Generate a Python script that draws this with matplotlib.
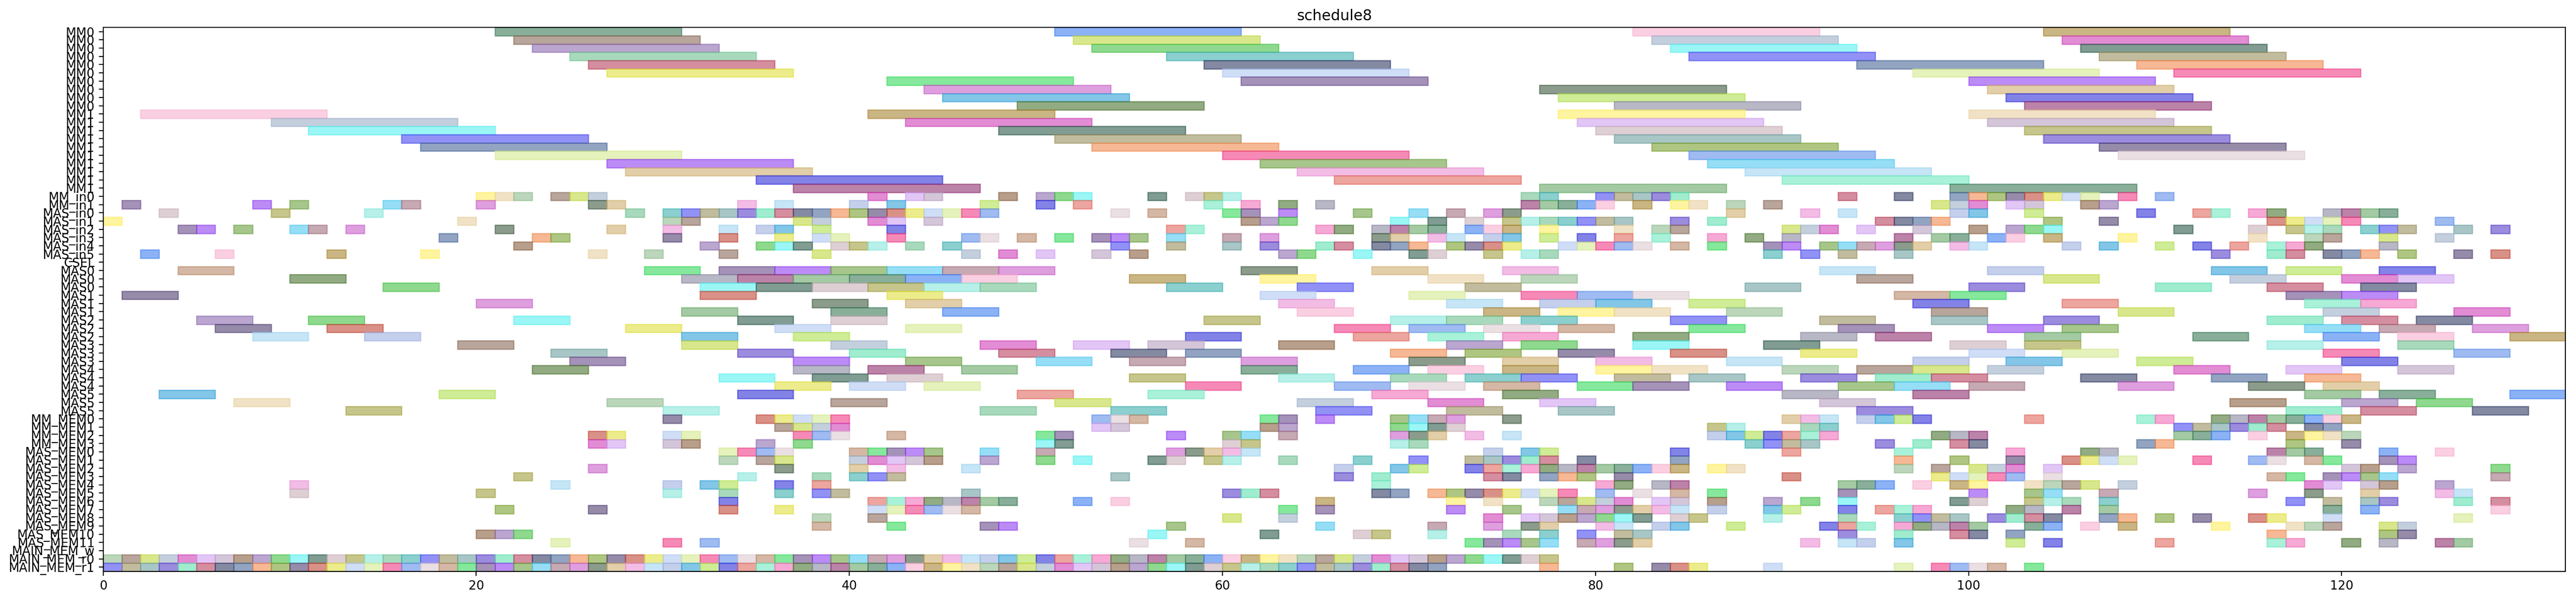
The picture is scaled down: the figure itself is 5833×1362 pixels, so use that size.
import matplotlib
matplotlib.use("Agg")
import matplotlib.pyplot as plt

# row labels, top to bottom
row_names = (["MM0"] * 10 + ["MM1"] * 10 + ["MM_in0", "MM_in1"]
             + ["MAS_in%d" % i for i in range(6)] + ["CSEL"]
             + ["MAS0"] * 3 + ["MAS1"] * 3 + ["MAS2"] * 3 + ["MAS3"] * 3 + ["MAS4"] * 3 + ["MAS5"] * 3
             + ["MM_MEM%d" % i for i in range(4)] + ["MAS_MEM%d" % i for i in range(12)]
             + ["MAIN_MEM_w", "MAIN_MEM_r0", "MAIN_MEM_r1"])

# MM rows: tasks of length 10
mm_len = 10
mm_starts = [
    [21, 51, 82, 104],
    [22, 52, 83, 105],
    [23, 53, 84, 106],
    [25, 57, 85, 107],
    [26, 59, 94, 109],
    [27, 60, 97, 111],
    [42, 61, 100],
    [44, 77, 101],
    [45, 78, 102],
    [49, 81, 103],
    [2, 41, 78, 100],
    [9, 43, 79, 101],
    [11, 48, 80, 103],
    [16, 51, 81, 104],
    [17, 53, 83, 107],
    [21, 60, 85, 108],
    [27, 62, 86],
    [28, 64, 88],
    [35, 66, 90],
    [37, 77, 99],
]

# input rows (MM_in0..MAS_in5) and CSEL: length 1
in_starts = [
    [20, 21, 22, 24, 25, 26, 41, 43, 44, 48, 50, 51, 52, 56, 58, 59, 60, 76, 77, 80, 81, 82, 83, 84, 93, 96,
     99, 100, 101, 102, 103, 104, 105, 106, 108, 110],
    [1, 8, 10, 15, 16, 20, 26, 27, 34, 36, 40, 42, 47, 50, 52, 59, 61, 63, 65, 76, 77, 78, 79, 80, 82, 84, 85,
     87, 89, 98, 99, 100, 102, 103, 106, 107],
    [3, 9, 14, 28, 30, 31, 32, 33, 34, 35, 36, 37, 38, 39, 40, 41, 42, 43, 44, 45, 46, 47, 54, 56, 60, 61, 63,
     67, 70, 72, 74, 75, 87, 91, 93, 99, 100, 103, 109, 112, 113, 115, 116, 119, 120, 121, 122],
    [0, 19, 30, 31, 37, 38, 41, 42, 44, 61, 62, 63, 69, 71, 73, 75, 76, 77, 78, 79, 80, 81, 84, 86, 95, 96, 97,
     98, 104, 107, 116, 117, 118, 119, 120, 125],
    [4, 5, 7, 10, 11, 13, 21, 27, 30, 33, 35, 36, 38, 42, 57, 58, 65, 66, 68, 69, 70, 71, 73, 74, 75, 77, 81,
     83, 84, 90, 91, 92, 94, 97, 100, 102, 103, 104, 111, 115, 117, 118, 119, 121, 122, 123, 126, 128],
    [18, 23, 24, 30, 33, 36, 38, 39, 42, 46, 47, 49, 51, 53, 54, 55, 57, 60, 62, 68, 69, 71, 72, 74, 75, 77,
     79, 81, 83, 86, 88, 90, 96, 98, 99, 101, 102, 104, 108, 115, 118, 119, 122, 125],
    [22, 32, 35, 36, 37, 39, 40, 41, 43, 45, 54, 57, 60, 62, 65, 66, 68, 69, 70, 72, 73, 74, 75, 78, 79, 80,
     81, 82, 84, 86, 89, 90, 92, 93, 94, 95, 96, 97, 99, 100, 105, 107, 110, 112, 114, 116, 117, 118, 122],
    [2, 6, 12, 17, 26, 29, 33, 38, 46, 48, 50, 53, 55, 63, 64, 67, 70, 71, 74, 76, 77, 89, 91, 93, 96, 113,
     116, 117, 119, 120, 121, 123, 126, 128],
    [],
]

# MAS rows: tasks of length 3
mas_len = 3
mas_starts = [
    [4, 29, 33, 36, 39, 42, 45, 48, 61, 68, 75, 92, 101, 113, 117, 122],
    [10, 31, 34, 37, 40, 43, 46, 55, 62, 71, 76, 94, 104, 114, 120, 123],
    [15, 32, 35, 38, 41, 44, 47, 57, 64, 73, 88, 100, 110, 116, 121],
    [1, 32, 42, 62, 70, 76, 79, 82, 96, 99, 117, 120],
    [20, 38, 43, 63, 72, 77, 80, 85, 97, 105, 118, 121],
    [31, 39, 45, 64, 74, 78, 81, 87, 98, 108, 119, 126],
    [5, 11, 22, 34, 39, 59, 69, 72, 76, 84, 92, 98, 104, 116, 120, 124],
    [6, 12, 28, 36, 43, 66, 70, 74, 78, 85, 93, 101, 105, 118, 122, 127],
    [8, 14, 31, 37, 58, 67, 71, 75, 82, 91, 95, 103, 112, 119, 123, 129],
    [19, 31, 39, 47, 52, 56, 63, 72, 76, 82, 89, 99, 103, 116, 123],
    [24, 34, 40, 48, 54, 58, 69, 73, 78, 84, 91, 100, 105, 119, 126],
    [25, 37, 43, 50, 55, 61, 70, 75, 80, 87, 97, 102, 109, 120],
    [23, 37, 41, 46, 61, 67, 71, 75, 80, 83, 90, 94, 97, 101, 111, 117, 123],
    [33, 38, 42, 55, 63, 69, 73, 76, 81, 85, 91, 95, 98, 106, 113, 118],
    [36, 40, 44, 58, 66, 70, 74, 79, 82, 87, 93, 96, 100, 108, 115, 119],
    [3, 18, 34, 49, 56, 68, 75, 90, 97, 118, 122, 129],
    [7, 27, 39, 51, 64, 71, 77, 92, 114, 120, 124],
    [13, 30, 47, 54, 65, 72, 78, 94, 117, 121, 127],
]

# memory rows (MM_MEM0..3, MAS_MEM0..11): length 1
mem_starts = [
    [30, 35, 36, 37, 38, 39, 53, 54, 55, 62, 63, 65, 69, 70, 71, 72, 75, 90, 91, 92, 94, 95, 96, 97, 103,
     109, 110, 113, 114, 115, 116, 117, 118, 119, 120],
    [36, 37, 38, 39, 53, 54, 62, 63, 69, 70, 71, 72, 86, 87, 91, 92, 111, 112, 113, 114, 115, 116, 118, 119],
    [26, 27, 30, 31, 37, 38, 39, 42, 50, 51, 57, 60, 61, 63, 69, 70, 71, 73, 75, 86, 87, 88, 89, 90, 91, 92,
     98, 99, 100, 111, 112, 113, 115, 117, 118, 119, 120],
    [26, 27, 30, 31, 35, 37, 50, 51, 60, 61, 69, 70, 88, 89, 90, 91, 95, 97, 99, 100, 109, 110, 117, 120],
    [33, 34, 35, 36, 40, 41, 42, 43, 44, 47, 50, 57, 58, 59, 60, 61, 74, 76, 77, 84, 90, 96, 102, 106, 107,
     116, 117, 118, 122, 125],
    [33, 35, 36, 40, 41, 42, 43, 44, 47, 50, 52, 56, 57, 59, 60, 63, 67, 70, 73, 74, 75, 76, 77, 79, 84, 96,
     99, 102, 105, 106, 107, 108, 112, 115, 116, 118, 119, 122, 123],
    [26, 36, 40, 42, 46, 66, 69, 70, 73, 74, 75, 76, 77, 78, 79, 80, 81, 82, 83, 84, 86, 87, 96, 98, 100, 101,
     102, 104, 120, 121, 123, 128],
    [22, 34, 38, 40, 41, 42, 54, 66, 68, 74, 75, 77, 78, 79, 81, 90, 98, 99, 100, 101, 102, 104, 116, 117,
     119, 120, 121, 122, 128],
    [10, 24, 30, 32, 33, 36, 38, 68, 80, 81, 83, 84, 93, 94, 95, 97, 99, 100, 103, 104, 105, 106, 108, 118,
     119, 121, 122, 125],
    [10, 20, 30, 33, 36, 38, 39, 46, 60, 61, 62, 68, 69, 71, 72, 73, 74, 75, 76, 77, 78, 80, 82, 84, 86, 93,
     100, 103, 104, 107, 115, 118, 121, 125, 126],
    [33, 41, 42, 43, 44, 45, 46, 47, 48, 52, 54, 65, 72, 74, 77, 78, 79, 80, 81, 83, 84, 86, 89, 91, 93, 99,
     100, 103, 104, 105, 107, 117, 119, 121, 122, 126, 128],
    [21, 26, 33, 36, 41, 42, 43, 44, 45, 46, 63, 65, 72, 75, 78, 79, 80, 81, 82, 83, 84, 86, 89, 90, 93, 95,
     96, 97, 102, 103, 105, 107, 119, 121, 128],
    [38, 41, 60, 63, 74, 76, 77, 78, 79, 80, 81, 82, 84, 85, 89, 93, 96, 97, 98, 99, 101, 102, 103, 104, 107,
     108, 110, 112, 115, 116, 119, 126],
    [38, 42, 47, 48, 57, 65, 71, 74, 76, 77, 80, 81, 83, 84, 87, 92, 93, 94, 96, 97, 98, 99, 100, 103, 104,
     106, 108, 113, 117, 118, 119, 122, 123],
    [20, 21, 22, 56, 62, 67, 68, 71, 75, 77, 79, 81, 82, 93, 96, 99, 100, 102, 116, 122, 123],
    [24, 30, 32, 55, 58, 73, 74, 75, 76, 77, 79, 80, 81, 82, 91, 93, 94, 96, 102, 104, 110, 116, 117, 120,
     122, 125, 126],
]

# main memory rows: length 1
main_w = []
main_r0 = [0, 1, 2, 3, 4, 5, 6, 7, 8, 9, 10, 11, 12, 13, 14, 15, 16, 17, 18, 19, 20, 21, 22, 23, 24, 25,
           26, 27, 28, 29, 30, 31, 32, 33, 34, 35, 36, 37, 38, 39, 40, 41, 42, 43, 44, 45, 46, 47, 48, 49, 50,
           51, 52, 53, 54, 55, 56, 57, 58, 59, 60, 61, 62, 63, 64, 65, 66, 67, 68, 69, 70, 71, 72, 73, 74, 75,
           76, 77]
main_r1 = [0, 1, 2, 3, 4, 5, 6, 7, 8, 9, 10, 11, 12, 13, 14, 15, 16, 17, 18, 19, 20, 21, 22, 23, 24, 25,
           26, 27, 28, 29, 30, 31, 32, 33, 34, 35, 36, 37, 38, 39, 40, 41, 42, 43, 44, 45, 46, 47, 48, 49, 50,
           51, 52, 53, 54, 55, 56, 57, 58, 59, 60, 61, 62, 63, 64, 65, 66, 67, 68, 69, 70, 71, 77, 81, 83, 84,
           85, 89, 96, 98, 99, 100, 101, 103]

# mixed bright and muted colours, like the random ones in the original
palette = ["#3b7a57", "#5f8fe8", "#8d6bb0", "#9db0e0", "#b8435f", "#a88532", "#36d95a", "#2d5a4a",
           "#3030d8", "#f08a4e", "#8fbc8f", "#6ca040", "#86e6da", "#f070b8", "#c04838", "#9db0c8",
           "#c860c8", "#4a4af0", "#903070", "#d4ea90", "#b8a0c0", "#ea90d4", "#5a40c8", "#4080f0",
           "#dccad0", "#44c044", "#30a0d8", "#323c64", "#ffee60", "#6a4a8a", "#c8b0b8", "#e06a60",
           "#7aa030", "#8a6a58", "#50c8f0", "#70c090", "#4a7430", "#e0e040", "#d040b8", "#405a40",
           "#9a9060", "#68a868", "#f03d88", "#886040", "#a0d4f0", "#60e0b0", "#f8b0d0", "#b88868",
           "#58f0f0", "#b0e050", "#4a6898", "#e8d0a0", "#9040f0", "#a0a040", "#70e8c0", "#504070",
           "#c0d840", "#a07080", "#40b0b0", "#8888a0", "#b0c8f0", "#d0a0f0", "#d0b070", "#70a0a0"]

rows = []
for s in mm_starts:
    rows.append((s, mm_len))
for s in in_starts:
    rows.append((s, 1))
for s in mas_starts:
    rows.append((s, mas_len))
for s in mem_starts:
    rows.append((s, 1))
for s in [main_w, main_r0, main_r1]:
    rows.append((s, 1))

fig = plt.figure(figsize=(29.165, 6.81), dpi=200)
ax = fig.add_axes([0.04005, 0.04949, 0.95589, 0.9047])

k = 0
for i, (starts, dur) in enumerate(rows):
    if not starts:
        continue
    cols = []
    for j in range(len(starts)):
        cols.append(palette[(k * 23 + i * 5) % len(palette)])
        k += 1
    ax.barh([i] * len(starts), [dur] * len(starts), left=starts, height=1,
            color=cols, edgecolor=cols, alpha=0.6, linewidth=1)

ax.set_yticks(range(len(row_names)))
ax.set_yticklabels(row_names)
ax.set_ylim(len(row_names) - 0.5, -0.5)
ax.set_xlim(0, 132)
ax.set_title("schedule8")

fig.savefig("out.png", dpi=200)
